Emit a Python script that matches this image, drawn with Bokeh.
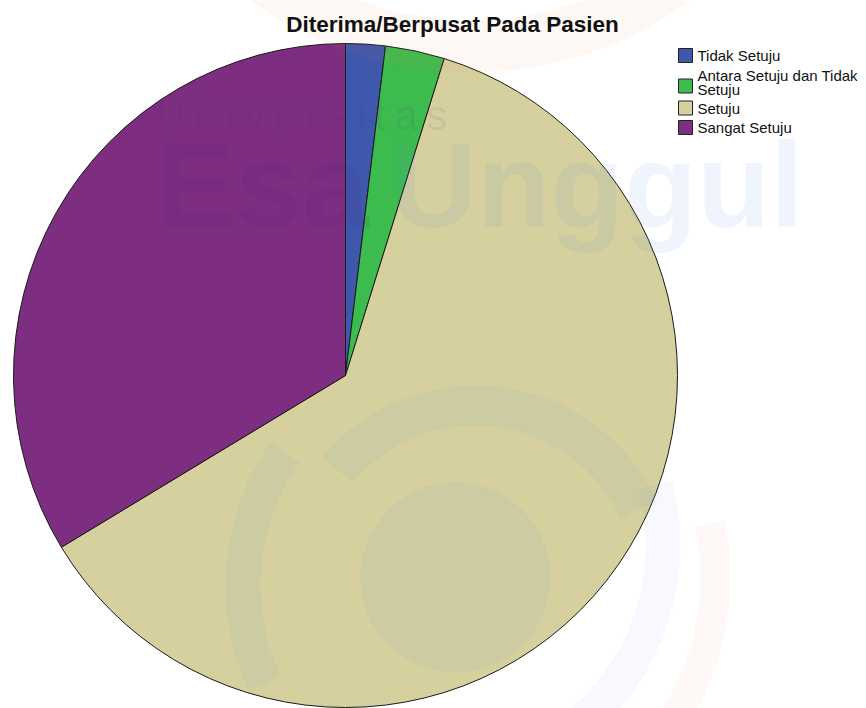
import math
from bokeh.plotting import figure
from bokeh.models import Range1d
from bokeh.core.properties import value
from bokeh.embed import file_html
from bokeh.resources import INLINE

title = "Diterima/Berpusat Pada Pasien"
categories = ["Tidak Setuju", "Antara Setuju dan Tidak Setuju", "Setuju", "Sangat Setuju"]
legend_lines = [["Tidak Setuju"], ["Antara Setuju dan Tidak", "Setuju"], ["Setuju"], ["Sangat Setuju"]]
counts = [2, 3, 64, 35]
colors = ["#3E58AC", "#3CBB4E", "#D5D09E", "#7D2E80"]

W, H = 866, 708
p = figure(width=W, height=H, output_backend="svg", toolbar_location=None,
           x_range=Range1d(0, W), y_range=Range1d(708 - H, 708),
           min_border=0, background_fill_color="white", border_fill_color="white")
p.axis.visible = False
p.grid.visible = False
p.outline_line_color = None

def Y(img_y):
    return 708 - img_y

def base(img_baseline, size):
    # alphabetic baseline as rendered sits ~0.36em lower
    return Y(img_baseline - 0.36 * size)

# pie geometry
cx, cy, r = 345, Y(375), 332
total = sum(counts)
starts, ends = [], []
cum = 0.0
for c in counts:
    a0 = cum / total * 2 * math.pi
    cum += c
    a1 = cum / total * 2 * math.pi
    starts.append(math.pi / 2 - a0)
    ends.append(math.pi / 2 - a1)

p.wedge(x=[cx] * 4, y=[cy] * 4, radius=r, start_angle=starts, end_angle=ends,
        direction="clock", fill_color=colors, line_color="#1a1a1a", line_width=1)

# watermark (university logo) approximations, drawn translucent over the chart
blue, orange = "#5b8ee6", "#f08a5d"
p.annular_wedge(x=[470], y=[Y(-300)], inner_radius=320, outer_radius=372,
                start_angle=math.radians(180), end_angle=math.radians(360),
                fill_color=orange, fill_alpha=0.06, line_color=None)
p.annular_wedge(x=[475], y=[Y(585)], inner_radius=160, outer_radius=200,
                start_angle=math.radians(25), end_angle=math.radians(140),
                fill_color=blue, fill_alpha=0.07, line_color=None)
p.annular_wedge(x=[475], y=[Y(585)], inner_radius=215, outer_radius=250,
                start_angle=math.radians(145), end_angle=math.radians(205),
                fill_color=blue, fill_alpha=0.06, line_color=None)
p.annular_wedge(x=[430], y=[Y(545)], inner_radius=215, outer_radius=250,
                start_angle=math.radians(-60), end_angle=math.radians(15),
                fill_color=blue, fill_alpha=0.05, line_color=None)
p.annular_wedge(x=[455], y=[Y(577)], inner_radius=245, outer_radius=275,
                start_angle=math.radians(-35), end_angle=math.radians(12),
                fill_color=orange, fill_alpha=0.05, line_color=None)
p.circle(x=[455], y=[Y(577)], radius=95, fill_color=blue, fill_alpha=0.07, line_color=None)
p.text(x=[155], y=[base(130, 42)], text=["U\u2009n\u2009i\u2009v\u2009e\u2009r\u2009s\u2009i\u2009t\u2009a\u2009s"],
       text_font=value("Liberation Sans"),
       text_font_size="42px", text_color="#5a2a8a", text_alpha=0.09,
       text_baseline="alphabetic")
p.text(x=[155], y=[base(228, 120)], text=["Esa"], text_font=value("Liberation Sans"),
       text_font_size="120px", text_font_style="bold", text_color="#5a1f8a", text_alpha=0.12,
       text_baseline="alphabetic")
p.text(x=[390], y=[base(228, 120)], text=["Unggul"], text_font=value("Liberation Sans"),
       text_font_size="120px", text_font_style="bold", text_color=blue, text_alpha=0.09,
       text_baseline="alphabetic")

# title
p.text(x=[452], y=[base(32, 22.5)], text=[title], text_font=value("Liberation Sans"),
       text_font_size="22.5px", text_font_style="bold", text_color="#111111",
       text_align="center", text_baseline="alphabetic")

# legend
lx = 685
sq = 14
yy = 55
for i, lines in enumerate(legend_lines):
    sq_y = yy + (7 + 4 if len(lines) > 1 else 0)
    p.rect(x=[lx], y=[Y(sq_y)], width=sq, height=sq,
           fill_color=colors[i], line_color="#222222", line_width=1)
    for j, t in enumerate(lines):
        p.text(x=[697], y=[Y(yy + j * 14.5)], text=[t], text_font=value("Liberation Sans"),
               text_font_size="15px", text_color="#111111", text_baseline="middle")
    yy += 14.5 * len(lines) + (5 if len(lines) == 1 else 4)

open("out.html", "w").write(file_html(p, INLINE))
